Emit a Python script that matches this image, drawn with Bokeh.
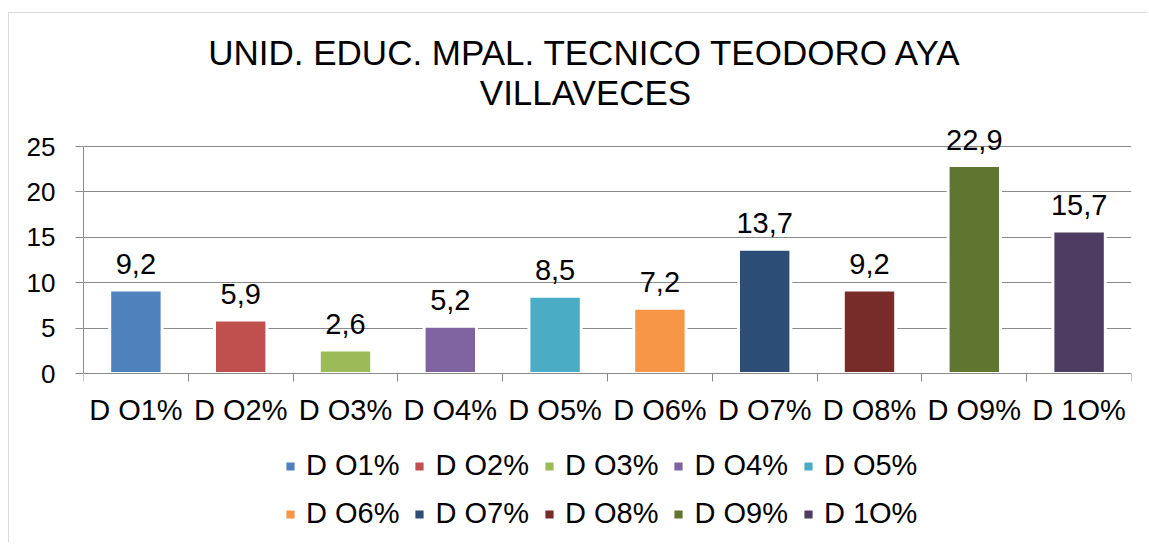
from bokeh.plotting import figure
from bokeh.models import (ColumnDataSource, FixedTicker, Label, LabelSet,
                          Legend, LegendItem, Range1d)
from bokeh.core.properties import value
from bokeh.embed import file_html
from bokeh.resources import INLINE

title_lines = ["UNID. EDUC. MPAL. TECNICO TEODORO AYA", "VILLAVECES"]
categories = ["D O1%", "D O2%", "D O3%", "D O4%", "D O5%",
              "D O6%", "D O7%", "D O8%", "D O9%", "D 1O%"]
values = [9.2, 5.9, 2.6, 5.2, 8.5, 7.2, 13.7, 9.2, 22.9, 15.7]
value_labels = ["9,2", "5,9", "2,6", "5,2", "8,5", "7,2", "13,7", "9,2", "22,9", "15,7"]
colors = ["#4F81BD", "#C0504D", "#9BBB59", "#8064A2", "#4BACC6",
          "#F79646", "#2C4D75", "#772C2A", "#5F7530", "#4D3B62"]
y_ticks = [0, 5, 10, 15, 20, 25]
y_axis_max = 25

FONT = "Liberation Sans"
GRID = "#8a8a8a"

xs = list(range(len(categories)))
src = ColumnDataSource(dict(x=xs, top=values, label=value_labels,
                            color=colors, name=categories))

# The frame covers the full height of the canvas: the value axis only spans
# 0..25, the room above holds the title and the room below the legend.
p = figure(width=1139, height=530, output_backend="svg", toolbar_location=None,
           x_range=Range1d(-0.5, len(categories) - 0.5),
           y_range=Range1d(-18.72, 39.65),
           min_border_left=74, min_border_right=17, min_border_top=0,
           min_border_bottom=0)
p.styles = {"margin-left": "8px", "margin-top": "12px",
            "border-left": "1px solid #d9d9d9", "border-top": "1px solid #d9d9d9"}
p.outline_line_color = None
p.background_fill_color = "white"
p.border_fill_color = "white"

r = p.vbar(x="x", top="top", bottom=0, width=0.5, fill_color="color",
           line_color="white", line_width=3, source=src)

# axes
p.yaxis.bounds = (0, y_axis_max)
p.yaxis.ticker = FixedTicker(ticks=y_ticks)
p.yaxis.major_tick_out = 8
p.yaxis.major_tick_in = 0
p.yaxis.minor_tick_line_color = None
p.yaxis.major_label_standoff = 20
p.yaxis.major_label_text_font = FONT
p.yaxis.major_label_text_font_size = "26px"
p.yaxis.major_label_text_color = "black"
p.yaxis.axis_line_color = GRID
p.yaxis.major_tick_line_color = GRID

p.xaxis.fixed_location = 0
p.xaxis.ticker = FixedTicker(ticks=xs, minor_ticks=[i - 0.5 for i in range(len(categories) + 1)])
p.xaxis.major_label_overrides = {i: c for i, c in enumerate(categories)}
p.xaxis.major_tick_line_color = None
p.xaxis.major_tick_out = 0
p.xaxis.major_tick_in = 0
p.xaxis.minor_tick_out = 8
p.xaxis.minor_tick_in = 0
p.xaxis.minor_tick_line_color = GRID
p.xaxis.axis_line_color = GRID
p.xaxis.major_label_standoff = 12
p.xaxis.major_label_text_font = FONT
p.xaxis.major_label_text_font_size = "29px"
p.xaxis.major_label_text_color = "black"

p.xgrid.grid_line_color = None
p.ygrid.ticker = FixedTicker(ticks=y_ticks)
p.ygrid.grid_line_color = GRID

# value labels
p.add_layout(LabelSet(x="x", y="top", text="label", y_offset=16, text_align="center",
                      text_baseline="alphabetic", text_font=value(FONT),
                      text_font_size=value("29px"), text_color="black", source=src))

# title
for line, yy in zip(title_lines, [491, 451]):
    p.add_layout(Label(x=502, y=yy, x_units="screen", y_units="screen", text=line,
                       text_align="center", text_baseline="alphabetic", text_font=FONT,
                       text_font_size="35px", text_color="black"))

# legends (two rows) below the axis
for row, ly in enumerate([61, 13]):
    items = [LegendItem(label=categories[i], renderers=[r], index=i)
             for i in range(row * 5, row * 5 + 5)]
    leg = Legend(items=items, orientation="horizontal", location=(200, ly),
                 glyph_width=14, glyph_height=14, label_standoff=9, spacing=13,
                 padding=0, margin=0, border_line_color=None, background_fill_alpha=0,
                 label_text_font=FONT, label_text_font_size="29px", label_text_color="black")
    p.add_layout(leg, "center")

open("out.html", "w").write(file_html(p, INLINE))
